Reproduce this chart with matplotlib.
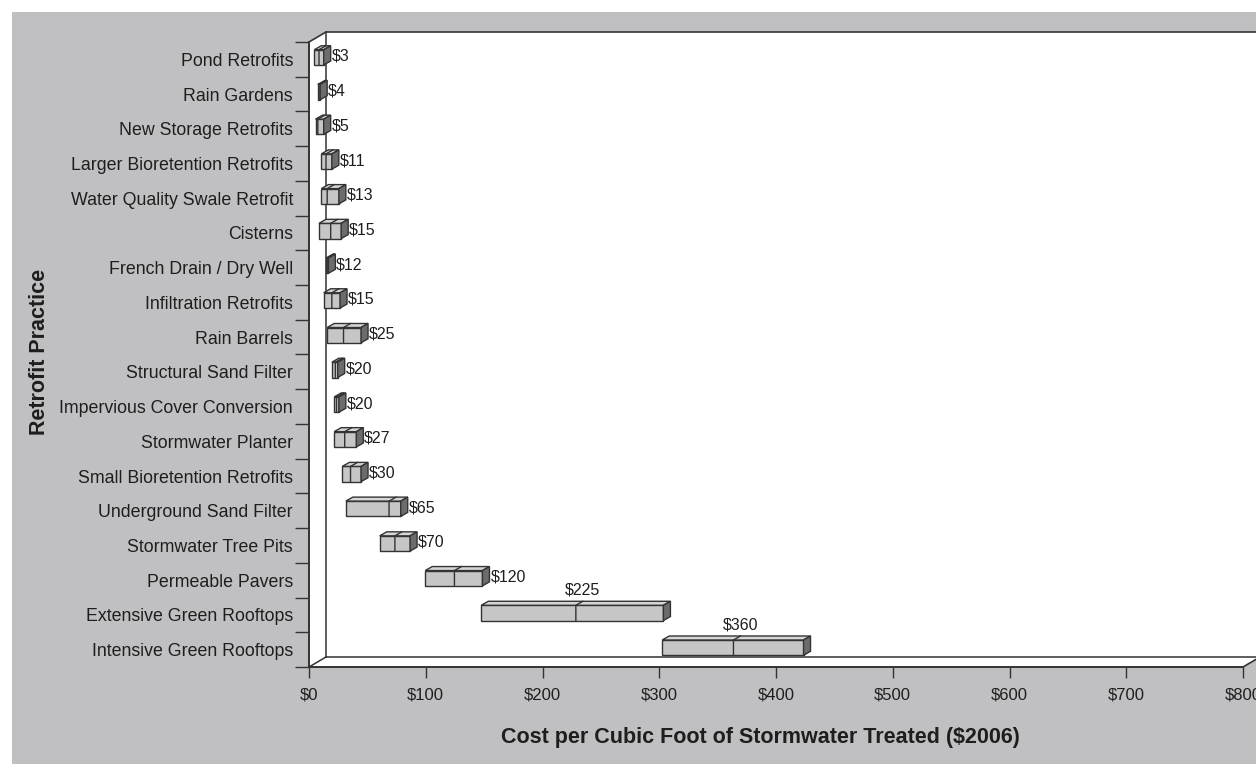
import numpy as np
import matplotlib.pyplot as plt
from matplotlib.patches import Polygon, Rectangle
from matplotlib.transforms import IdentityTransform

plt.rcParams["text.parse_math"] = False
plt.rcParams["font.family"] = ["Liberation Sans", "DejaVu Sans"]

# ==== data ($ per cubic foot)
practices = [
    "Pond Retrofits", "Rain Gardens", "New Storage Retrofits",
    "Larger Bioretention Retrofits", "Water Quality Swale Retrofit", "Cisterns",
    "French Drain / Dry Well", "Infiltration Retrofits", "Rain Barrels",
    "Structural Sand Filter", "Impervious Cover Conversion", "Stormwater Planter",
    "Small Bioretention Retrofits", "Underground Sand Filter", "Stormwater Tree Pits",
    "Permeable Pavers", "Extensive Green Rooftops", "Intensive Green Rooftops",
]
cost_low = [2, 5, 3, 8, 8, 6, 12, 10, 13, 17, 19, 19, 26, 29, 58, 97, 145, 300]
cost_high = [10, 7, 10, 17, 23, 25, 14, 24, 42, 22, 23, 38, 42, 76, 84, 146, 301, 421]
cost_mid = [6, 6, 5, 12, 13, 16, 13, 17, 27, 20, 21, 28, 33, 66, 71, 122, 226, 361]
cost_label = [3, 4, 5, 11, 13, 15, 12, 15, 25, 20, 20, 27, 30, 65, 70, 120, 225, 360]
x_ticks = [0, 100, 200, 300, 400, 500, 600, 700, 800]
x_tick_labels = ["$0", "$100", "$200", "$300", "$400", "$500", "$600", "$700", "$800"]
labels_above = ["Extensive Green Rooftops", "Intensive Green Rooftops"]

# ==== style
GRAY = "#c0c0c2"
EDGE = "#333333"
FRONT = "#c6c6c6"
TOP = "#d6d6d6"
SIDE = "#6c6c6c"
TXT = "#1e1e1e"
DPI = 100
W, H = 1256, 764
DEPTH = (17, 10)      # floor / back wall offset (px)
BAR_F = (3, 2)        # bar front face offset
BAR_B = (10, 6)       # bar back face offset
HALF_H = 0.22         # half bar height (category units)

fig = plt.figure(figsize=(W / DPI, H / DPI), dpi=DPI)
fig.patch.set_facecolor("white")
fig.add_artist(Rectangle((12 / W, 0), 1, (H - 12) / H, transform=fig.transFigure,
                         facecolor=GRAY, edgecolor="none", zorder=-5))

ax = fig.add_axes([309 / W, 97 / H, 934 / W, 625 / H])
n = len(practices)
ax.set_xlim(0, 800)
ax.set_ylim(n - 0.5, -0.5)
ax.set_facecolor("none")


def disp(x, y, d=(0, 0)):
    X, Y = ax.transData.transform((x, y))
    return (X + d[0], Y + d[1])


ident = IdentityTransform()

# ==== 3D wall / floor
wall = [disp(0, -0.5), disp(0, -0.5, DEPTH), disp(800, -0.5, DEPTH),
        disp(800, n - 0.5, DEPTH), disp(800, n - 0.5), disp(0, n - 0.5)]
ax.add_patch(Polygon(wall, closed=True, facecolor="white", edgecolor=EDGE, lw=1.2,
                     transform=ident, clip_on=False, zorder=0))
for a, b in [(disp(0, -0.5, DEPTH), disp(0, n - 0.5, DEPTH)),
             (disp(0, n - 0.5, DEPTH), disp(800, n - 0.5, DEPTH)),
             (disp(0, n - 0.5), disp(0, n - 0.5, DEPTH))]:
    ax.plot([a[0], b[0]], [a[1], b[1]], color=EDGE, lw=1.1, transform=ident,
            clip_on=False, zorder=1)

# ==== bars
for i in range(n):
    lo, hi, md = cost_low[i], cost_high[i], cost_mid[i]
    yt, yb = i - HALF_H, i + HALF_H
    front = [disp(lo, yb, BAR_F), disp(hi, yb, BAR_F), disp(hi, yt, BAR_F), disp(lo, yt, BAR_F)]
    top = [disp(lo, yt, BAR_F), disp(hi, yt, BAR_F), disp(hi, yt, BAR_B), disp(lo, yt, BAR_B)]
    side = [disp(hi, yt, BAR_F), disp(hi, yb, BAR_F), disp(hi, yb, BAR_B), disp(hi, yt, BAR_B)]
    for pts, fc in [(front, FRONT), (top, TOP), (side, SIDE)]:
        ax.add_patch(Polygon(pts, closed=True, facecolor=fc, edgecolor=EDGE, lw=1,
                             transform=ident, clip_on=False, zorder=3))
    d0, d1, d2 = disp(md, yb, BAR_F), disp(md, yt, BAR_F), disp(md, yt, BAR_B)
    ax.plot([d0[0], d1[0], d2[0]], [d0[1], d1[1], d2[1]], color=EDGE, lw=1,
            transform=ident, clip_on=False, zorder=4)

    txt = f"${cost_label[i]}"
    if practices[i] in labels_above:
        ax.annotate(txt, xy=(md, i), xytext=(10, 25), textcoords="offset pixels",
                    ha="center", va="center", fontsize=11.5, color=TXT, zorder=5)
    else:
        ax.annotate(txt, xy=(hi, i), xytext=(BAR_B[0] + 1, 3), textcoords="offset pixels",
                    ha="left", va="center", fontsize=11.5, color=TXT, zorder=5)

# ==== axes
for s in ["top", "right"]:
    ax.spines[s].set_visible(False)
for s in ["left", "bottom"]:
    ax.spines[s].set_color(EDGE)
    ax.spines[s].set_linewidth(1.2)
    ax.spines[s].set_zorder(6)

ax.set_xticks(x_ticks)
ax.set_xticklabels(x_tick_labels, fontsize=12, color=TXT,
                   family=["Liberation Sans Narrow", "Liberation Sans"])
ax.tick_params(axis="x", direction="out", length=8, width=1, color=EDGE, pad=7)

ax.set_yticks(np.arange(n))
ax.set_yticklabels(practices, fontsize=12.8, color=TXT)
ax.set_yticks(np.arange(n + 1) - 0.5, minor=True)
ax.tick_params(axis="y", which="major", length=0, pad=11.5)
ax.tick_params(axis="y", which="minor", direction="out", length=10, width=1, color=EDGE)

fig.text(40 / W, 1 - 352 / H, "Retrofit Practice", rotation=90, ha="center", va="center",
         fontsize=15.5, fontweight="bold", color=TXT)
fig.text(760 / W, 1 - 738 / H, "Cost per Cubic Foot of Stormwater Treated ($2006)",
         ha="center", va="center", fontsize=15.5, fontweight="bold", color=TXT)

fig.savefig("out.png", dpi=DPI, facecolor=fig.get_facecolor())
